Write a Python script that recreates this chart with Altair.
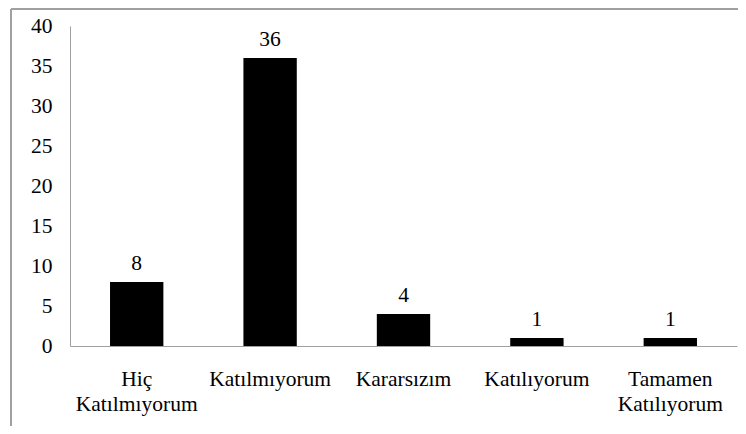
import altair as alt
import pandas as pd

categories = ["Hiç\nKatılmıyorum", "Katılmıyorum", "Kararsızım", "Katılıyorum", "Tamamen\nKatılıyorum"]
counts = [8, 36, 4, 1, 1]

df = pd.DataFrame({"cat": categories, "n": counts})

FONT = "Liberation Serif"
FS = 21.5

x = alt.X("cat:N", sort=categories, title=None,
          scale=alt.Scale(paddingInner=0.6, paddingOuter=0.3),
          axis=alt.Axis(labelAngle=0, ticks=False, domainColor="#a0a0a0", domainWidth=1,
                        labelFont=FONT, labelFontSize=FS, labelColor="black",
                        labelLineHeight=25, labelPadding=22, labelBaseline="top",
                        labelOverlap=False,
                        labelExpr="split(datum.label, '\\n')"))
y = alt.Y("n:Q", title=None,
          scale=alt.Scale(domain=[0, 40], nice=False),
          axis=alt.Axis(values=[0, 5, 10, 15, 20, 25, 30, 35, 40], grid=False, ticks=False,
                        domainColor="#a0a0a0", domainWidth=1, labelOverlap=False,
                        labelFont=FONT, labelFontSize=FS, labelColor="black",
                        labelPadding=18))

bars = alt.Chart(df).mark_bar(color="black").encode(x=x, y=y)
labels = alt.Chart(df).mark_text(font=FONT, fontSize=FS, color="black",
                                 baseline="alphabetic", dy=-12).encode(
    x=x, y=y, text="n:Q")

frame_left = alt.Chart(df).mark_rule(color="#a0a0a0", strokeWidth=1.5).encode(
    x=alt.value(-59), y=alt.value(-17), y2=alt.value(420))
frame_top = alt.Chart(df).mark_rule(color="#a0a0a0", strokeWidth=1.5).encode(
    y=alt.value(-17), x=alt.value(-59), x2=alt.value(700))

chart = alt.layer(frame_left, frame_top, bars, labels).properties(
    width=667, height=320,
    autosize=alt.AutoSizeParams(type="none"),
    padding={"left": 62, "top": 18, "right": 1, "bottom": 80},
).configure_view(stroke=None).configure_axis(
    labelFont=FONT, labelFontSize=FS, labelColor="black"
).configure_text(font=FONT)

chart.save("out.html", embed_options={"renderer": "svg", "actions": False})
